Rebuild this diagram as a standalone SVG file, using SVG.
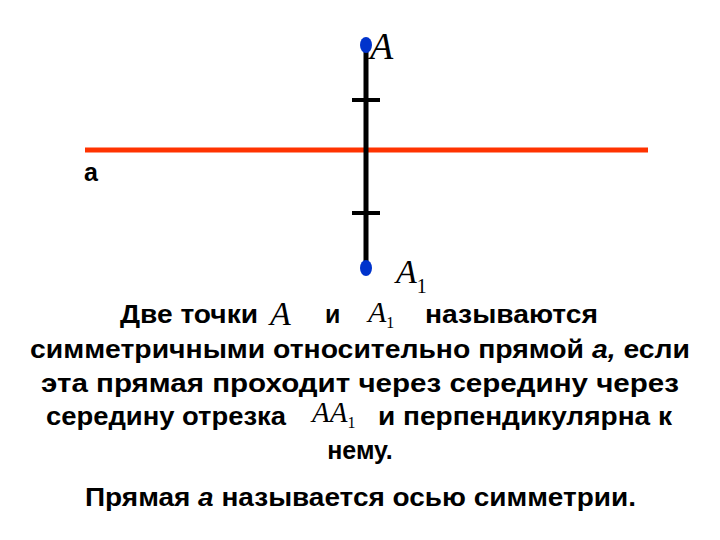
<svg xmlns="http://www.w3.org/2000/svg" width="720" height="540" viewBox="0 0 720 540">
<style>
.t{font-family:"Liberation Sans",Arial,sans-serif;font-weight:bold;font-size:25px;fill:#000}
.m{font-family:"Liberation Serif","Times New Roman",serif;font-style:italic;fill:#000}
.sub{font-style:normal}
.dot{fill:#0033cc}
</style>
<rect width="720" height="540" fill="#fff"/>
<g id="connectors">
<line x1="85" y1="150" x2="648" y2="150" stroke="#ff3300" stroke-width="5"/>
<line x1="366" y1="45" x2="366" y2="268" stroke="#000" stroke-width="5"/>
<line x1="352" y1="100" x2="380" y2="100" stroke="#000" stroke-width="4"/>
<line x1="352" y1="213" x2="380" y2="213" stroke="#000" stroke-width="4"/>
</g>
<g id="pointA"><ellipse class="dot" cx="366" cy="45" rx="6" ry="8"/><text class="m" x="370" y="59" font-size="38">A</text></g>
<g id="pointA1"><ellipse class="dot" cx="366" cy="268" rx="6" ry="8"/><text class="m" x="396" y="283" font-size="34">A<tspan class="sub" font-size="20" dy="10">1</tspan></text></g>
<g id="lineLabel"><text class="t" x="84" y="181" font-size="22">а</text></g>
<g id="text">
<text class="t" x="120" y="323" textLength="138" lengthAdjust="spacingAndGlyphs">Две точки</text>
<text class="m" x="270" y="325" font-size="34">A</text>
<text class="t" x="325" y="323">и</text>
<text class="m" x="368" y="322" font-size="30">A<tspan class="sub" font-size="16" dy="6">1</tspan></text>
<text class="t" x="425" y="323" textLength="173" lengthAdjust="spacingAndGlyphs">называются</text>
<text class="t" x="30" y="358" textLength="660" lengthAdjust="spacingAndGlyphs">симметричными относительно прямой <tspan font-style="italic">а,</tspan> если</text>
<text class="t" x="41" y="392" textLength="638" lengthAdjust="spacingAndGlyphs">эта прямая проходит через середину через</text>
<text class="t" x="46" y="425" textLength="240" lengthAdjust="spacingAndGlyphs">середину отрезка</text>
<text class="m" x="312" y="422" font-size="29">AA<tspan class="sub" font-size="16" dy="6">1</tspan></text>
<text class="t" x="378" y="425" textLength="294" lengthAdjust="spacingAndGlyphs">и перпендикулярна к</text>
<text class="t" x="360" y="459" text-anchor="middle">нему.</text>
<text class="t" x="85" y="506" textLength="551" lengthAdjust="spacingAndGlyphs">Прямая <tspan font-style="italic">а</tspan> называется осью симметрии.</text>
</g>
</svg>
